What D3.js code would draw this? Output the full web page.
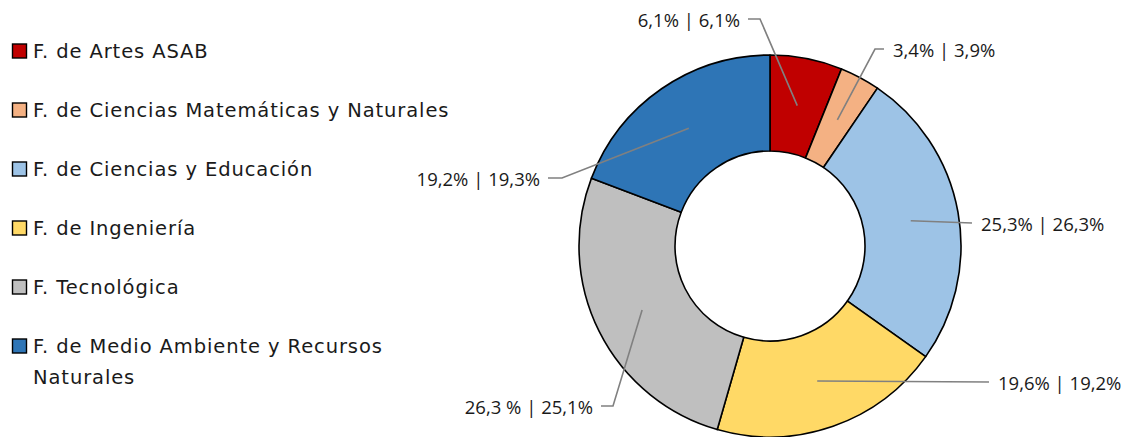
<!DOCTYPE html>
<html>
<head>
<meta charset="utf-8">
<title>Donut</title>
<style>
  body { margin: 0; background: #fff; }
  text { font-family: "Open Sans", sans-serif; fill: #1a1a1a; }
  .legend text { font-family: "DejaVu Sans", sans-serif; letter-spacing: 0.9px; }
</style>
<script src="https://d3js.org/d3.v7.min.js"></script>
</head>
<body>
<svg width="1125" height="437"></svg>
<script>
// data
var facultades = ["F. de Artes ASAB", "F. de Ciencias Matemáticas y Naturales", "F. de Ciencias y Educación",
                  "F. de Ingeniería", "F. Tecnológica", "F. de Medio Ambiente y Recursos Naturales"];
var valores = [6.1, 3.4, 25.3, 19.6, 26.3, 19.2];
var etiquetas = ["6,1% | 6,1%", "3,4% | 3,9%", "25,3% | 26,3%", "19,6% | 19,2%", "26,3 % | 25,1%", "19,2% | 19,3%"];
var colores = ["#C00000", "#F4B183", "#9DC3E6", "#FFD966", "#BFBFBF", "#2E75B6"];

// label placement (kink offset from centre, elbow length; negative = left)
var kinks = [[-10, -227, -12], [105, -197, 9], [202, -23, 0], [219, 136, 0], [-157, 160, -12], [-208, -68, -14]];

var svg = d3.select("svg");
var cx = 770, cy = 246, rOut = 191, rIn = 95;

var pie = d3.pie().sort(null).value(function(d) { return d; });
var arc = d3.arc().innerRadius(rIn).outerRadius(rOut);
var arcs = pie(valores);

var g = svg.append("g").attr("transform", "translate(" + cx + "," + cy + ")");

g.selectAll("path.slice")
  .data(arcs)
  .enter().append("path")
  .attr("class", "slice")
  .attr("d", arc)
  .attr("fill", function(d, i) { return colores[i]; })
  .attr("stroke", "#000")
  .attr("stroke-width", 1.6)
  .attr("stroke-linejoin", "round");

// leader lines + labels
var rLead = 143;
arcs.forEach(function(d, i) {
  var a = (d.startAngle + d.endAngle) / 2;
  var sx = Math.sin(a) * rLead, sy = -Math.cos(a) * rLead;
  var k = kinks[i];
  var ex = k[0] + k[2];
  var left = k[2] < 0 || (k[2] === 0 && k[0] < 0);
  g.append("polyline")
    .attr("points", [[sx, sy], [k[0], k[1]], [ex, k[1]]].map(function(p) { return p.join(","); }).join(" "))
    .attr("fill", "none")
    .attr("stroke", "#808080")
    .attr("stroke-width", 1.6);
  g.append("text")
    .attr("x", left ? ex - 8 : ex + 9)
    .attr("y", k[1] + 7.5)
    .attr("text-anchor", left ? "end" : "start")
    .attr("font-size", "18.5px")
    .text(etiquetas[i]);
});

// legend
var lineas = [["F. de Artes ASAB"], ["F. de Ciencias Matemáticas y Naturales"], ["F. de Ciencias y Educación"],
              ["F. de Ingeniería"], ["F. Tecnológica"], ["F. de Medio Ambiente y Recursos", "Naturales"]];
var legendY = d3.scaleLinear().domain([0, 5]).range([51, 346]);
var leg = svg.append("g").attr("class", "legend");
facultades.forEach(function(f, i) {
  var y = legendY(i);
  leg.append("rect")
    .attr("x", 12.5).attr("y", y - 7)
    .attr("width", 14).attr("height", 14)
    .attr("fill", colores[i])
    .attr("stroke", "#000")
    .attr("stroke-width", 1.4);
  var t = leg.append("text")
    .attr("x", 33).attr("y", y + 6.5)
    .attr("font-size", "19.5px");
  lineas[i].forEach(function(l, j) {
    t.append("tspan").attr("x", 33).attr("dy", j === 0 ? 0 : 31).text(l);
  });
});
</script>
</body>
</html>
